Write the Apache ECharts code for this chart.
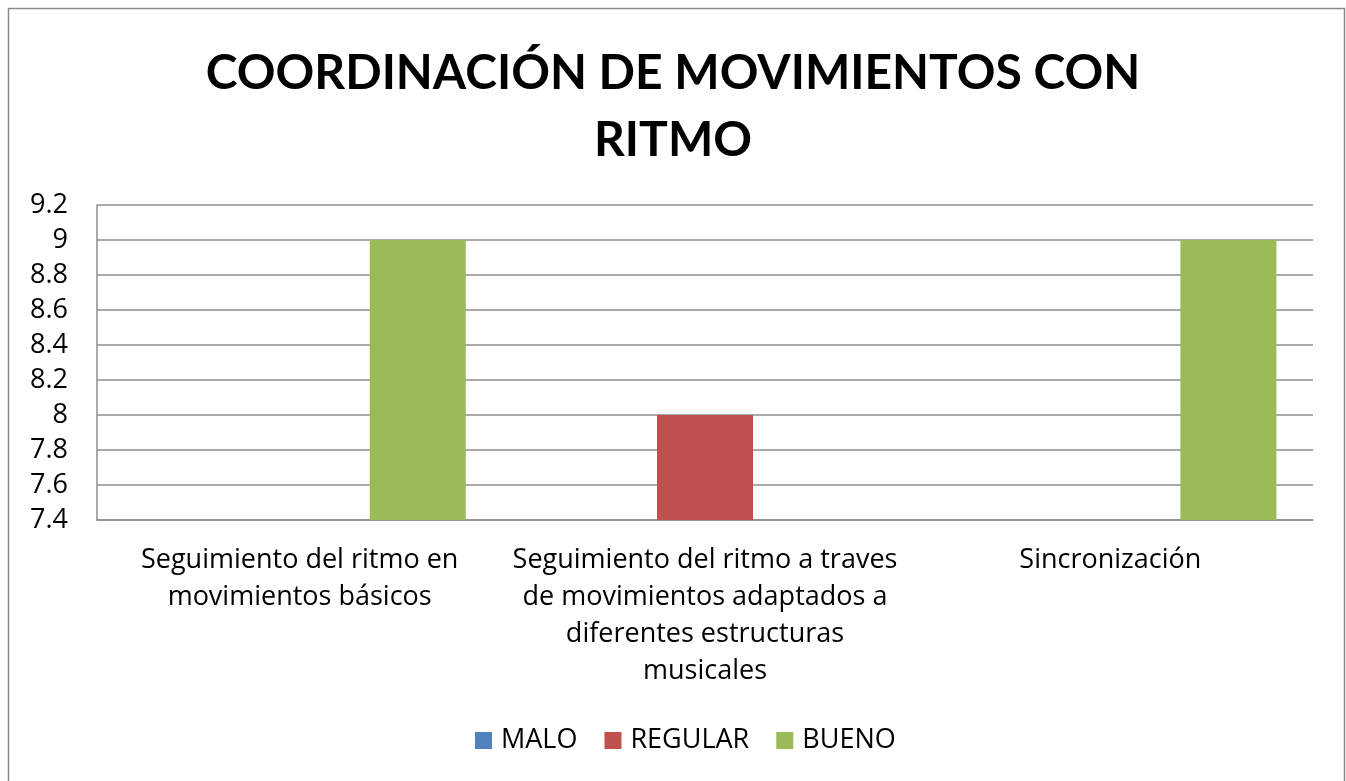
<!DOCTYPE html>
<html>
<head>
<meta charset="utf-8">
<title>Coordinación de movimientos con ritmo</title>
<script src="https://cdn.jsdelivr.net/npm/echarts@6/dist/echarts.min.js"></script>
<style>
html,body{margin:0;padding:0;background:#fff;}
#chart{width:1346px;height:781px;}
</style>
</head>
<body>
<div id="chart"></div>
<script>
// datos
var categorias = [
	'Seguimiento del ritmo en\nmovimientos básicos',
	'Seguimiento del ritmo a traves\nde movimientos adaptados a\ndiferentes estructuras\nmusicales',
	'Sincronización'
];
var malo = [0, 0, 0];
var regular = [0, 8, 0];
var bueno = [9, 0, 9];
var yMin = 7.4, yMax = 9.2, yPaso = 0.2;

var fuenteTitulo = 'Lato, "Open Sans", sans-serif';
var fuente = '"Open Sans", Lato, sans-serif';
var lineaGris = '#8e8e8e';

var chart = echarts.init(document.getElementById('chart'));  //inicializar

function serie(nombre, datos, color){
	return {
		name: nombre,
		type: 'bar',
		data: datos,
		clip: true,
		barWidth: 96,
		barGap: '23%',
		itemStyle: { color: color }
	};
}

var option = {
	backgroundColor: '#fff',
	animation: false,
	graphic: [{
		type: 'rect',
		shape: { x: 8.5, y: 8.5, width: 1336, height: 790 },
		style: { fill: 'none', stroke: '#8a8a8a', lineWidth: 1.5 },
		silent: true
	}],
	title: {
		text: 'COORDINACIÓN DE MOVIMIENTOS CON\nRITMO',
		left: 'center',
		top: 35,
		textStyle: {
			fontFamily: fuenteTitulo,
			fontWeight: 'bold',
			fontSize: 48,
			lineHeight: 67,
			color: '#000'
		}
	},
	legend: {
		data: ['MALO', 'REGULAR', 'BUENO'],
		left: 470,
		top: 722,
		icon: 'rect',
		itemWidth: 17,
		itemHeight: 17,
		itemGap: 27,
		textStyle: {
			fontFamily: fuente,
			fontSize: 27,
			color: '#000',
			padding: [0, 0, 0, 4]
		}
	},
	grid: {
		left: 97,
		right: 33,
		top: 205,
		bottom: 261,
		containLabel: false
	},
	xAxis: {
		type: 'category',
		data: categorias,
		axisLine: { show: true, lineStyle: { color: lineaGris, width: 1.5 } },
		axisTick: { show: false },
		axisLabel: {
			interval: 0,
			margin: 22,
			fontFamily: fuente,
			fontSize: 27,
			lineHeight: 37,
			color: '#000'
		}
	},
	yAxis: {
		type: 'value',
		min: yMin,
		max: yMax,
		interval: yPaso,
		axisLine: { show: true, lineStyle: { color: lineaGris, width: 1.5 } },
		axisTick: { show: false },
		splitLine: { show: true, lineStyle: { color: lineaGris, width: 1.5 } },
		axisLabel: {
			margin: 29,
			fontFamily: fuente,
			fontSize: 27,
			color: '#000',
			formatter: function(v){ return String(Math.round(v * 10) / 10); }
		}
	},
	series: [
		serie('MALO', malo, '#4F81BD'),
		serie('REGULAR', regular, '#C0504D'),
		serie('BUENO', bueno, '#9BBB59')
	]
};
chart.setOption(option);
</script>
</body>
</html>
